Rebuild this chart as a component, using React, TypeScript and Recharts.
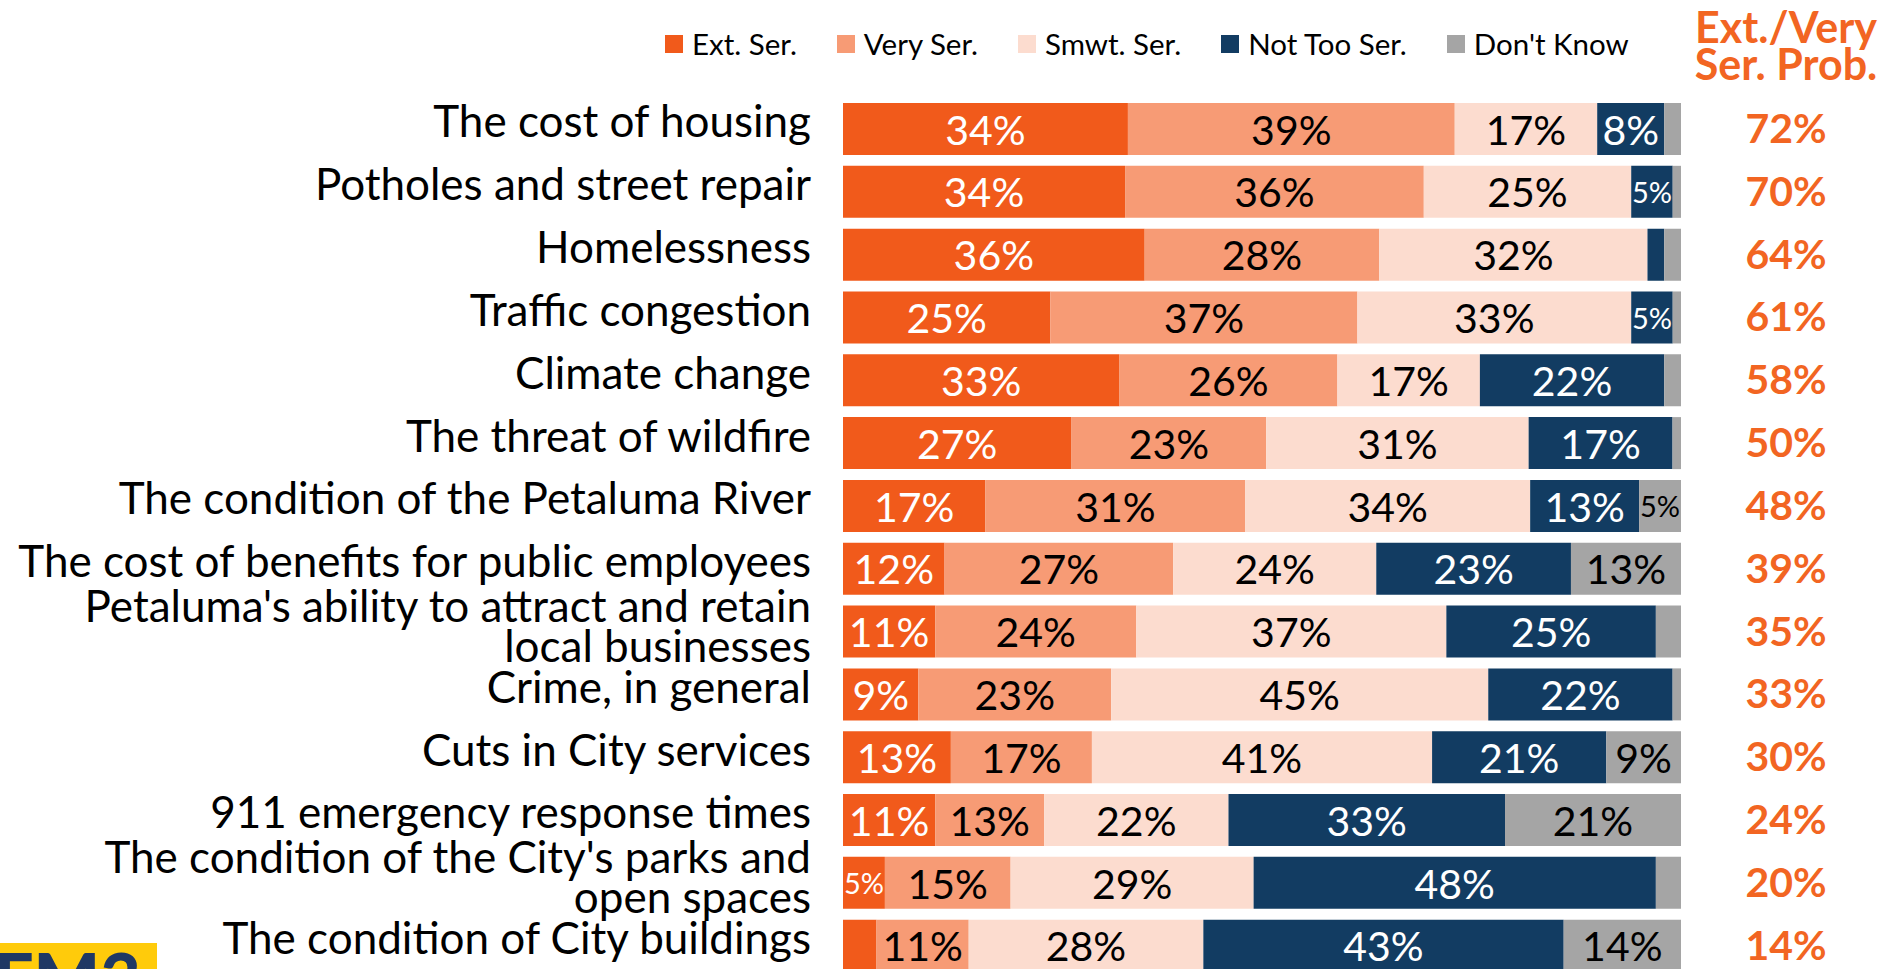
import React from 'react';
import { BarChart, Bar, XAxis, YAxis, Legend, LabelList } from 'recharts';

const categories = [
  'The cost of housing',
  'Potholes and street repair',
  'Homelessness',
  'Traffic congestion',
  'Climate change',
  'The threat of wildfire',
  'The condition of the Petaluma River',
  'The cost of benefits for public employees',
  "Petaluma's ability to attract and retain\nlocal businesses",
  'Crime, in general',
  'Cuts in City services',
  '911 emergency response times',
  "The condition of the City's parks and\nopen spaces",
  'The condition of City buildings',
];
const extSer = [34, 34, 36, 25, 33, 27, 17, 12, 11, 9, 13, 11, 5, 4];
const verySer = [39, 36, 28, 37, 26, 23, 31, 27, 24, 23, 17, 13, 15, 11];
const smwtSer = [17, 25, 32, 33, 17, 31, 34, 24, 37, 45, 41, 22, 29, 28];
const notTooSer = [8, 5, 2, 5, 22, 17, 13, 23, 25, 22, 21, 33, 48, 43];
const dontKnow = [2, 1, 2, 1, 2, 1, 5, 13, 3, 1, 9, 21, 3, 14];
const extVeryTotal = [72, 70, 64, 61, 58, 50, 48, 39, 35, 33, 30, 24, 20, 14];

const seriesNames = ['Ext. Ser.', 'Very Ser.', 'Smwt. Ser.', 'Not Too Ser.', "Don't Know"];
const headerLines = ['Ext./Very', 'Ser. Prob.'];
const logoText = 'FM3';

const FONT = "Lato, 'Open Sans', sans-serif";
const ORANGE = '#F26522';

const data = categories.map((name, i) => ({
  name,
  ext: extSer[i],
  very: verySer[i],
  smwt: smwtSer[i],
  notToo: notTooSer[i],
  dk: dontKnow[i],
}));

const series = [
  { key: 'ext', name: seriesNames[0], fill: '#F15A1B', text: '#FFFFFF', values: extSer },
  { key: 'very', name: seriesNames[1], fill: '#F79B75', text: '#000000', values: verySer },
  { key: 'smwt', name: seriesNames[2], fill: '#FCDCCF', text: '#000000', values: smwtSer },
  { key: 'notToo', name: seriesNames[3], fill: '#123C62', text: '#FFFFFF', values: notTooSer },
  { key: 'dk', name: seriesNames[4], fill: '#A5A5A5', text: '#000000', values: dontKnow },
];

const box = (props: any) => {
  const vb = props.viewBox || {};
  const x = props.x ?? vb.x;
  const y = props.y ?? vb.y;
  const width = props.width ?? vb.width;
  const height = props.height ?? vb.height;
  return { x: Number(x), y: Number(y), width: Number(width), height: Number(height) };
};

const makeSegLabel = (values: number[], color: string) => (props: any) => {
  const { x, y, width, height } = box(props);
  const v = values[props.index];
  if (v == null || v < 5) return null;
  const small = width < 50;
  const fs = small ? 29 : 41;
  return (
    <text
      x={x + width / 2}
      y={y + height / 2 + fs * 0.358 + 1}
      textAnchor="middle"
      fill={color}
      fontSize={fs}
      fontFamily={FONT}
    >
      {v}%
    </text>
  );
};

const TotalLabel = (props: any) => {
  const { x, y, width, height } = box(props);
  const v = extVeryTotal[props.index];
  return (
    <text
      x={x + width + 105}
      y={y + height / 2 + 14}
      textAnchor="middle"
      fill={ORANGE}
      fontSize={41}
      fontWeight={700}
      fontFamily={FONT}
    >
      {v}%
    </text>
  );
};

const CategoryTick = (props: any) => {
  const { x, y, payload } = props;
  const lines = String(payload.value).split('\n');
  const common = { textAnchor: 'end' as const, fill: '#000', fontSize: 44, fontFamily: FONT };
  if (lines.length === 1) {
    return (
      <text x={x} y={y + 8} {...common}>
        {lines[0]}
      </text>
    );
  }
  return (
    <text {...common}>
      <tspan x={x} y={y - 10}>{lines[0]}</tspan>
      <tspan x={x} y={y + 30}>{lines[1]}</tspan>
    </text>
  );
};

const LegendContent = (props: any) => {
  const payload = [...(props.payload || [])].sort(
    (a: any, b: any) => seriesNames.indexOf(a.value) - seriesNames.indexOf(b.value)
  );
  return (
    <div style={{ display: 'flex', alignItems: 'center', gap: 40, fontFamily: FONT, whiteSpace: 'nowrap' }}>
      {payload.map((p: any, i: number) => (
        <div key={i} style={{ display: 'flex', alignItems: 'center' }}>
          <span style={{ display: 'inline-block', width: 18, height: 18, background: p.color, marginRight: 9 }} />
          <span style={{ fontSize: 29.5, lineHeight: '34px', color: '#000' }}>{p.value}</span>
        </div>
      ))}
    </div>
  );
};

export default function App() {
  return (
    <div
      style={{
        position: 'absolute',
        left: 0,
        top: 0,
        width: 1883,
        height: 969,
        overflow: 'hidden',
        background: '#fff',
      }}
    >
      <BarChart
        width={1883}
        height={990}
        data={data}
        layout="vertical"
        stackOffset="expand"
        margin={{ top: 98, right: 202, bottom: 12.5, left: 0 }}
        barSize={52}
      >
        <XAxis type="number" hide domain={[0, 1]} />
        <YAxis
          type="category"
          dataKey="name"
          width={843}
          axisLine={false}
          tickLine={false}
          tickSize={0}
          tickMargin={32}
          interval={0}
          tick={<CategoryTick />}
        />
        <Legend
          layout="horizontal"
          verticalAlign="middle"
          align="center"
          wrapperStyle={{ top: 27, left: 665, width: 'auto', height: 'auto' }}
          content={<LegendContent />}
        />
        {series.map((s) => (
          <Bar
            key={s.key}
            dataKey={s.key}
            name={s.name}
            stackId="a"
            fill={s.fill}
            isAnimationActive={false}
          >
            <LabelList dataKey={s.key} content={makeSegLabel(s.values, s.text)} />
            {s.key === 'dk' ? <LabelList dataKey={s.key} content={TotalLabel} /> : null}
          </Bar>
        ))}
      </BarChart>
      <svg
        width={1883}
        height={969}
        style={{ position: 'absolute', left: 0, top: 0, pointerEvents: 'none' }}
      >
        <text x={1786} y={43} textAnchor="middle" fill={ORANGE} fontSize={43} fontWeight={700} fontFamily={FONT}>
          {headerLines[0]}
        </text>
        <text x={1786} y={80} textAnchor="middle" fill={ORANGE} fontSize={43} fontWeight={700} fontFamily={FONT}>
          {headerLines[1]}
        </text>
        <rect x={0} y={943} width={157} height={30} fill="#FFCB0B" />
        <text x={-6} y={1004} fill="#1F3864" fontSize={70} fontWeight={900} fontFamily={FONT}>
          {logoText}
        </text>
      </svg>
    </div>
  );
}
